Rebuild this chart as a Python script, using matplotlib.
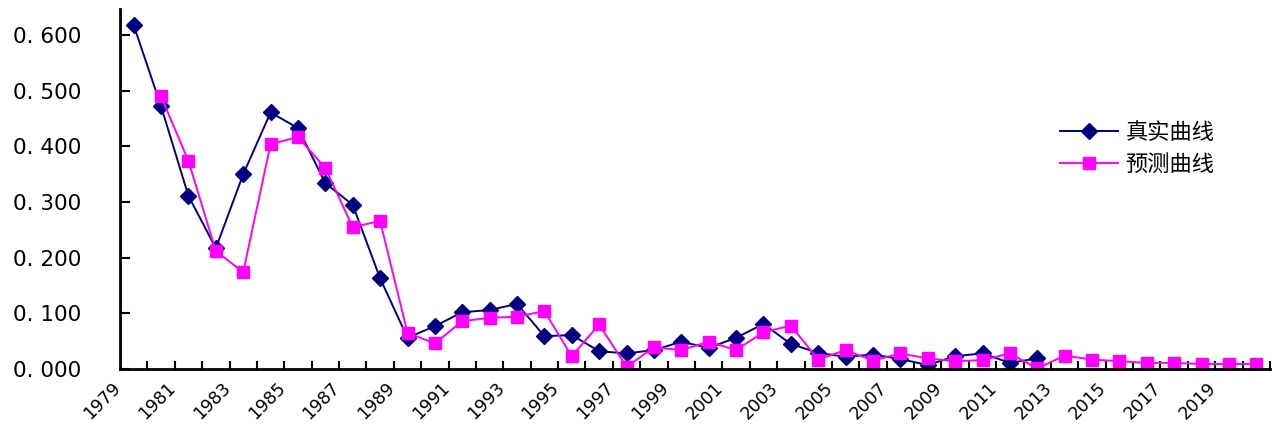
import numpy as np
import matplotlib
matplotlib.use("Agg")
import matplotlib.pyplot as plt
from matplotlib.transforms import ScaledTranslation

# années 1979 - 2020
years = list(range(1979, 2021))

# courbe réelle (1979 - 2012)
real = [0.618, 0.472, 0.311, 0.217, 0.350, 0.461, 0.433, 0.334, 0.295, 0.163,
        0.056, 0.077, 0.102, 0.106, 0.117, 0.059, 0.061, 0.032, 0.028, 0.034,
        0.049, 0.038, 0.056, 0.081, 0.045, 0.029, 0.022, 0.026, 0.018, 0.007,
        0.023, 0.028, 0.011, 0.019]

# courbe prédite (1980 - 2020)
pred = [0.490, 0.374, 0.212, 0.174, 0.404, 0.417, 0.361, 0.255, 0.266, 0.065,
        0.046, 0.086, 0.092, 0.094, 0.104, 0.023, 0.080, 0.004, 0.039, 0.034,
        0.049, 0.034, 0.066, 0.078, 0.017, 0.034, 0.015, 0.028, 0.019, 0.014,
        0.016, 0.028, 0.001, 0.024, 0.017, 0.014, 0.011, 0.011, 0.009, 0.009,
        0.009]

yticks = [0.0, 0.1, 0.2, 0.3, 0.4, 0.5, 0.6]
ytick_labels = ["0. 000", "0. 100", "0. 200", "0. 300", "0. 400", "0. 500", "0. 600"]

# -------------------------------
# Figure
# -------------------------------
fig = plt.figure(figsize=(12.72, 4.34), dpi=100)
ax = fig.add_axes([120 / 1272, 65 / 434, 1150 / 1272, 360 / 434])

x_real = np.arange(len(real))
x_pred = np.arange(1, 1 + len(pred))

ax.plot(x_real, real, color="#000080", lw=1.4, marker="D", ms=8,
        label="真实曲线")
ax.plot(x_pred, pred, color="#FF00FF", lw=1.4, marker="s", ms=9,
        label="预测曲线")

ax.set_xlim(-0.5, len(years) - 0.5)
ax.set_ylim(0, 0.647)

# axe des ordonnées
ax.set_yticks(yticks)
ax.set_yticklabels(ytick_labels, fontsize=15.5)
ax.tick_params(axis="y", direction="in", length=7, width=1.5, pad=28)

# axe des abscisses : graduations entre catégories, étiquettes une sur deux
ax.set_xticks(np.arange(0, len(years), 2))
ax.set_xticklabels([str(y) for y in years[::2]], fontsize=12.5,
                   rotation=45, ha="right", va="top", rotation_mode="anchor")
ax.set_xticks(np.arange(len(years)) + 0.5, minor=True)
ax.tick_params(axis="x", which="major", length=0, pad=7)
ax.tick_params(axis="x", which="minor", direction="in", length=6, width=1.5)
offset = ScaledTranslation(-22 / 100, 0, fig.dpi_scale_trans)
for lbl in ax.get_xticklabels():
    lbl.set_transform(lbl.get_transform() + offset)

for side in ["top", "right"]:
    ax.spines[side].set_visible(False)
for side in ["left", "bottom"]:
    ax.spines[side].set_linewidth(2)

leg = ax.legend(loc="upper left", bbox_to_anchor=(1040 / 1272, 333 / 434),
                bbox_transform=fig.transFigure, frameon=False,
                prop={"family": ["Noto Sans CJK SC", "DejaVu Sans"], "size": 16},
                handlelength=2.6, handletextpad=0.35, labelspacing=0.4)

fig.savefig("out.png", dpi=100)
